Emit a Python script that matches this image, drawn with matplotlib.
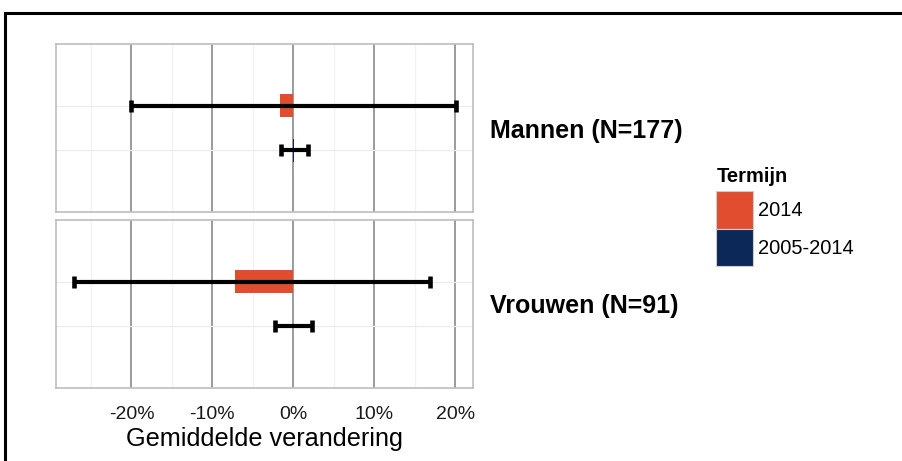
import numpy as np
import matplotlib.pyplot as plt
from matplotlib.patches import Rectangle, Patch

plt.rcParams['font.family'] = ['Liberation Sans', 'DejaVu Sans']

# data (percent change)
groups = ["Mannen (N=177)", "Vrouwen (N=91)"]
terms = ["2014", "2005-2014"]
mean_change = [[-1.7, 0.1], [-7.2, -0.05]]
ci_low = [[-20.0, -1.5], [-27.1, -2.25]]
ci_high = [[20.1, 1.85], [16.9, 2.3]]
colors = ["#E04E2F", "#0B2859"]
major_ticks = [-20, -10, 0, 10, 20]
minor_ticks = [-25, -15, -5, 5, 15]

W, H = 903, 461
fig = plt.figure(figsize=(W / 100, H / 100), dpi=100)


def box(l, t, r, b):
    return [l / W, 1 - b / H, (r - l) / W, (b - t) / H]


panels = [box(56, 44, 473, 212), box(56, 220, 473, 388)]
label_y = [131, 306]
axes = []
for i, g in enumerate(groups):
    ax = fig.add_axes(panels[i])
    axes.append(ax)
    ypos = np.arange(len(terms))
    ax.barh(ypos, mean_change[i], height=0.49, color=colors, zorder=2)
    lo = np.array(ci_low[i])
    hi = np.array(ci_high[i])
    mid = (lo + hi) / 2
    ax.errorbar(mid, ypos, xerr=(hi - lo) / 2, fmt='none', ecolor='black',
                elinewidth=3, capsize=4.3, capthick=3.3, zorder=3)
    ax.set_xlim(-29.33, 22.21)
    ax.set_ylim(2.367, -1.367)
    ax.set_xticks(major_ticks)
    ax.set_xticks(minor_ticks, minor=True)
    ax.set_yticks(ypos)
    ax.grid(which='major', axis='x', color='#808080', lw=1.1, zorder=0)
    ax.grid(which='minor', axis='x', color='#f2f2f2', lw=0.9, zorder=0)
    ax.grid(which='major', axis='y', color='#ececec', lw=0.9, zorder=0)
    ax.tick_params(which='both', length=0, labelleft=False, labelbottom=False)
    for s in ax.spines.values():
        s.set_color('#bdbdbd')
        s.set_linewidth(1.2)
    fig.text(490 / W, 1 - label_y[i] / H, g, ha='left', va='center',
             fontsize=18, fontweight='bold')

axes[1].tick_params(labelbottom=True, labelsize=14, pad=13, labelcolor='#1a1a1a')
axes[1].set_xticklabels([f"{t}%" for t in major_ticks])
axes[1].set_xlabel("Gemiddelde verandering", fontsize=18.2, labelpad=3)

# legend
fig.text(717 / W, 1 - 176 / H, "Termijn", ha='left', va='center',
         fontsize=14.5, fontweight='bold')
handles = [Patch(facecolor=c, edgecolor='#cccccc', lw=0.8) for c in colors]
fig.legend(handles, terms, loc='upper left',
           bbox_to_anchor=(716 / W, 1 - 191 / H), frameon=False,
           fontsize=14.5, handlelength=1.85, handleheight=2.5, labelspacing=0,
           handletextpad=0.25, borderpad=0, borderaxespad=0)

# outer frame, cut off at the right and bottom
fig.add_artist(Rectangle((5 / W, -0.2), 1.2, 1.2 - 13 / H + 0.001,
                         transform=fig.transFigure, fill=False,
                         edgecolor='black', lw=2.2))

fig.savefig("out.png", dpi=100)
